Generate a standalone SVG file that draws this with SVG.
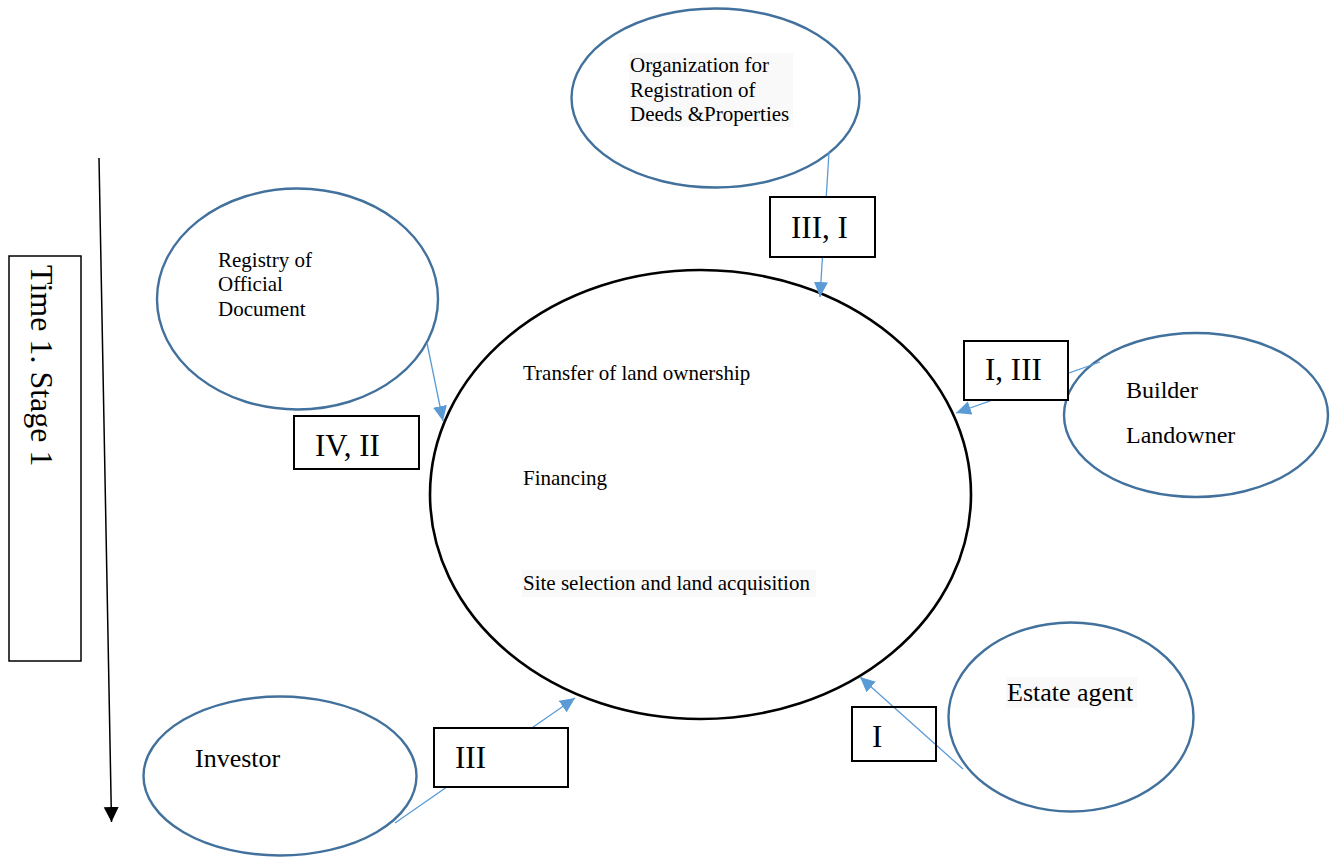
<svg xmlns="http://www.w3.org/2000/svg" width="1332" height="858" viewBox="0 0 1332 858">
  <defs>
    <style>
      .actor { fill: #ffffff; stroke: #41719C; stroke-width: 2.4; }
      .hub { fill: #ffffff; stroke: #000000; stroke-width: 2.6; }
      .tag { fill: #ffffff; stroke: #000000; stroke-width: 2; }
      .tag-open { fill: none; stroke: #000000; stroke-width: 2; }
      .link { fill: none; stroke: #5B9BD5; stroke-width: 1.3; }
      .shade { fill: #f9f9f9; }
      .t { font-family: "Liberation Serif", "Times New Roman", serif; fill: #000000; }
      .s21 { font-size: 21px; }
      .s24 { font-size: 24px; }
      .s26 { font-size: 26px; }
      .s31 { font-size: 31px; }
    </style>
    <marker id="blueHead" markerUnits="userSpaceOnUse" markerWidth="16" markerHeight="14" refX="15" refY="7" orient="auto">
      <path d="M0,0 L15,7 L0,14 Z" fill="#5B9BD5"/>
    </marker>
    <marker id="blackHead" markerUnits="userSpaceOnUse" markerWidth="16" markerHeight="16" refX="15" refY="7.5" orient="auto">
      <path d="M0,0 L15,7.5 L0,15 Z" fill="#000000"/>
    </marker>
  </defs>

  <rect width="1332" height="858" fill="#ffffff"/>

  <!-- time axis -->
  <g id="timeline">
    <rect x="9" y="256" width="72" height="405" fill="#ffffff" stroke="#000000" stroke-width="1.5"/>
    <text class="t" font-size="32" transform="translate(31,265) rotate(90)">Time 1. Stage 1</text>
    <line x1="99" y1="158" x2="111.5" y2="822" stroke="#000000" stroke-width="1.5" marker-end="url(#blackHead)"/>
  </g>

  <!-- central process -->
  <g id="process">
    <ellipse class="hub" cx="700.5" cy="494.5" rx="270.5" ry="224.5"/>
    <text class="t s21" x="523" y="380">Transfer of land ownership</text>
    <text class="t s21" x="523" y="485">Financing</text>
    <rect class="shade" x="522" y="570" width="294" height="27"/>
    <text class="t s21" x="523" y="590">Site selection and land acquisition</text>
  </g>

  <g id="org-registration">
    <ellipse class="actor" cx="715.5" cy="98" rx="144" ry="89.5"/>
    <rect class="shade" x="629" y="53" width="164" height="74"/>
    <text class="t s21" x="630" y="72">Organization for</text>
    <text class="t s21" x="630" y="97">Registration of</text>
    <text class="t s21" x="630" y="121">Deeds &amp;Properties</text>
  </g>

  <g id="registry">
    <ellipse class="actor" cx="297.5" cy="299" rx="140.5" ry="110.5"/>
    <text class="t s21" x="218" y="267">Registry of</text>
    <text class="t s21" x="218" y="291">Official</text>
    <text class="t s21" x="218" y="316">Document</text>
  </g>

  <g id="builder">
    <ellipse class="actor" cx="1196" cy="415" rx="132" ry="82"/>
    <text class="t s24" x="1126" y="398">Builder</text>
    <text class="t s24" x="1126" y="443">Landowner</text>
  </g>

  <g id="estate-agent">
    <ellipse class="actor" cx="1071" cy="717" rx="122.5" ry="94.5"/>
    <rect class="shade" x="1006" y="677" width="131" height="31"/>
    <text class="t s26" x="1007" y="701">Estate agent</text>
  </g>

  <g id="investor">
    <ellipse class="actor" cx="280" cy="776" rx="136.5" ry="79.5"/>
    <text class="t s26" x="195" y="767">Investor</text>
  </g>

  <!-- flows into the central process -->
  <g id="connectors">
    <line class="link" x1="829" y1="152" x2="820" y2="297" marker-end="url(#blueHead)"/>
    <line class="link" x1="427" y1="343" x2="443" y2="421" marker-end="url(#blueHead)"/>
    <line class="link" x1="1100" y1="362" x2="956" y2="413" marker-end="url(#blueHead)"/>
    <line class="link" x1="963" y1="769" x2="860" y2="677" marker-end="url(#blueHead)"/>
    <line class="link" x1="395" y1="823" x2="575" y2="698" marker-end="url(#blueHead)"/>
  </g>

  <!-- stage labels on the flows -->
  <g id="label-org">
    <rect class="tag" x="770" y="197" width="105" height="60"/>
    <text class="t s31" x="791" y="238">III, I</text>
  </g>
  <g id="label-registry">
    <rect class="tag" x="294" y="416" width="125" height="53"/>
    <text class="t s31" x="315" y="456">IV, II</text>
  </g>
  <g id="label-builder">
    <rect class="tag" x="964" y="341" width="104" height="59"/>
    <text class="t s31" x="985" y="380">I, III</text>
  </g>
  <g id="label-estate">
    <rect class="tag-open" x="852" y="707" width="84" height="54"/>
    <text class="t s31" x="872" y="747">I</text>
  </g>
  <g id="label-investor">
    <rect class="tag" x="434" y="728" width="134" height="59"/>
    <text class="t s31" x="455" y="768">III</text>
  </g>
</svg>
